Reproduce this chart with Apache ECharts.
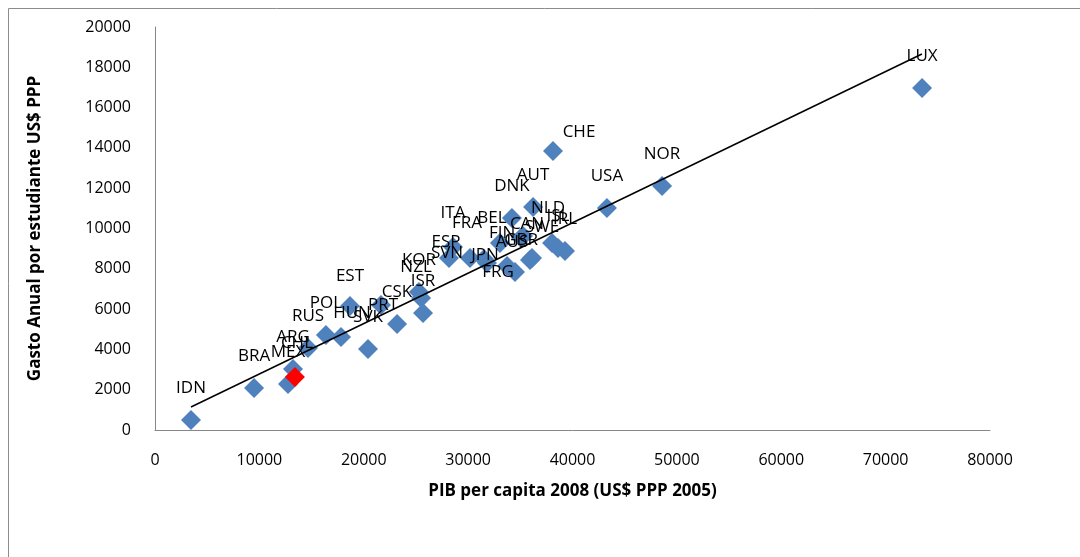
<!DOCTYPE html>
<html>
<head>
<meta charset="utf-8">
<script src="https://cdn.jsdelivr.net/npm/echarts@6/dist/echarts.min.js"></script>
<style>
html,body{margin:0;padding:0;background:#fff;}
#chart{width:1080px;height:557px;}
</style>
</head>
<body>
<div id="chart"></div>
<script>
// ---- data ----
const countries = ['IDN','BRA','MEX','ARG','RUS','POL','HUN','EST','SVK','PRT','CSK','KOR','NZL','ISR','SVN','ESP','ITA','FRA','JPN','BEL','FIN','FRG','AUS','GBR','CAN','SWE','DNK','AUT','NLD','ISL','IRL','CHE','USA','NOR','LUX'];
const gdpPerCapita = [3450,9490,12740,13220,14660,16380,17820,18680,20410,21650,23190,25290,25490,25680,28170,28550,30180,31520,31810,33050,33730,34490,35260,35070,35930,36120,34200,36220,38040,38610,39280,38130,43300,48580,73490];
const spendPerStudent = [500,2080,2280,3030,4070,4720,4620,6150,4020,6200,5260,6850,6550,5810,8540,9080,8540,8490,8290,9280,8140,7840,9630,9530,8440,8540,10520,11070,9280,9030,8880,13850,11020,12110,16970];
const highlightName = ['CHL'];
const highlightX = [13410];
const highlightY = [2630];
const trendX = [3450, 73480];
const trendY = [1140, 18660];
const xTicks = [0, 80000, 10000];
const yTicks = [0, 20000, 2000];

// ---- label placement tweaks (style only) ----
const defaultOffset = [0, -32];
const labelOffsets = {
  HUN:[11,-24], EST:[0,-30], PRT:[2,0], NZL:[-5,-31], SVN:[-2,-5], ESP:[-7,-5],
  ITA:[-17,-45], FRA:[-17,-36], JPN:[-2,-8], BEL:[-8,-25], FIN:[-5,-33], FRG:[-17,0],
  AUS:[-11,6], GBR:[0,2], CAN:[-3,-36], SWE:[10,-31], NLD:[-4,-35], CHE:[26,-19], CHL:[2,-34]
};

const FONT = 'Open Sans';
function pts(names, xs, ys){
  return names.map((n,i)=>({ name:n, value:[xs[i], ys[i]] }));
}
function layoutFor(names){
  return function(params){
    const o = labelOffsets[names[params.dataIndex]] || defaultOffset;
    return {dx:o[0], dy:o[1], hideOverlap:false};
  };
}
const labelStyle = {
  show:true, position:'inside', formatter:'{b}', color:'#000',
  fontFamily:FONT, fontSize:17, textBorderWidth:0, textShadowBlur:0
};

const chart = echarts.init(document.getElementById('chart'), null, {renderer:'canvas'});
chart.setOption({
  animation:false,
  backgroundColor:'#fff',
  graphic:[{
    type:'rect', silent:true, z:-10,
    shape:{x:8.5, y:8.5, width:1200, height:700},
    style:{fill:'none', stroke:'#8c8c8c', lineWidth:1}
  }],
  grid:{left:155, right:90, top:27, bottom:127, containLabel:false},
  xAxis:{
    type:'value', min:xTicks[0], max:xTicks[1], interval:xTicks[2],
    name:'PIB per capita 2008 (US$ PPP 2005)', nameLocation:'middle', nameGap:53,
    nameTextStyle:{fontFamily:FONT, fontSize:17, fontWeight:'bold', color:'#000'},
    axisLine:{show:true, lineStyle:{color:'#868686', width:1}},
    axisTick:{show:false}, splitLine:{show:false},
    axisLabel:{fontFamily:FONT, fontSize:16, color:'#000', margin:22, formatter:v=>String(v)}
  },
  yAxis:{
    type:'value', min:yTicks[0], max:yTicks[1], interval:yTicks[2],
    name:'Gasto Anual por estudiante US$ PPP', nameLocation:'middle', nameGap:111, nameRotate:90,
    nameTextStyle:{fontFamily:FONT, fontSize:17, fontWeight:'bold', color:'#000'},
    axisLine:{show:true, lineStyle:{color:'#868686', width:1}},
    axisTick:{show:false}, splitLine:{show:false},
    axisLabel:{fontFamily:FONT, fontSize:16, color:'#000', margin:24, formatter:v=>String(v)}
  },
  series:[
    {
      type:'scatter', symbol:'diamond', symbolSize:20,
      itemStyle:{color:'#4F81BD', opacity:1},
      label:labelStyle, labelLayout:layoutFor(countries),
      data:pts(countries, gdpPerCapita, spendPerStudent), z:2
    },
    {
      type:'scatter', symbol:'diamond', symbolSize:20,
      itemStyle:{color:'#FF0000', opacity:1},
      label:labelStyle, labelLayout:layoutFor(highlightName),
      data:pts(highlightName, highlightX, highlightY), z:3
    },
    {
      type:'line', symbol:'none', silent:true,
      lineStyle:{color:'#000', width:1.5},
      data:trendX.map((x,i)=>[x, trendY[i]]), z:4
    }
  ]
});
</script>
</body>
</html>
